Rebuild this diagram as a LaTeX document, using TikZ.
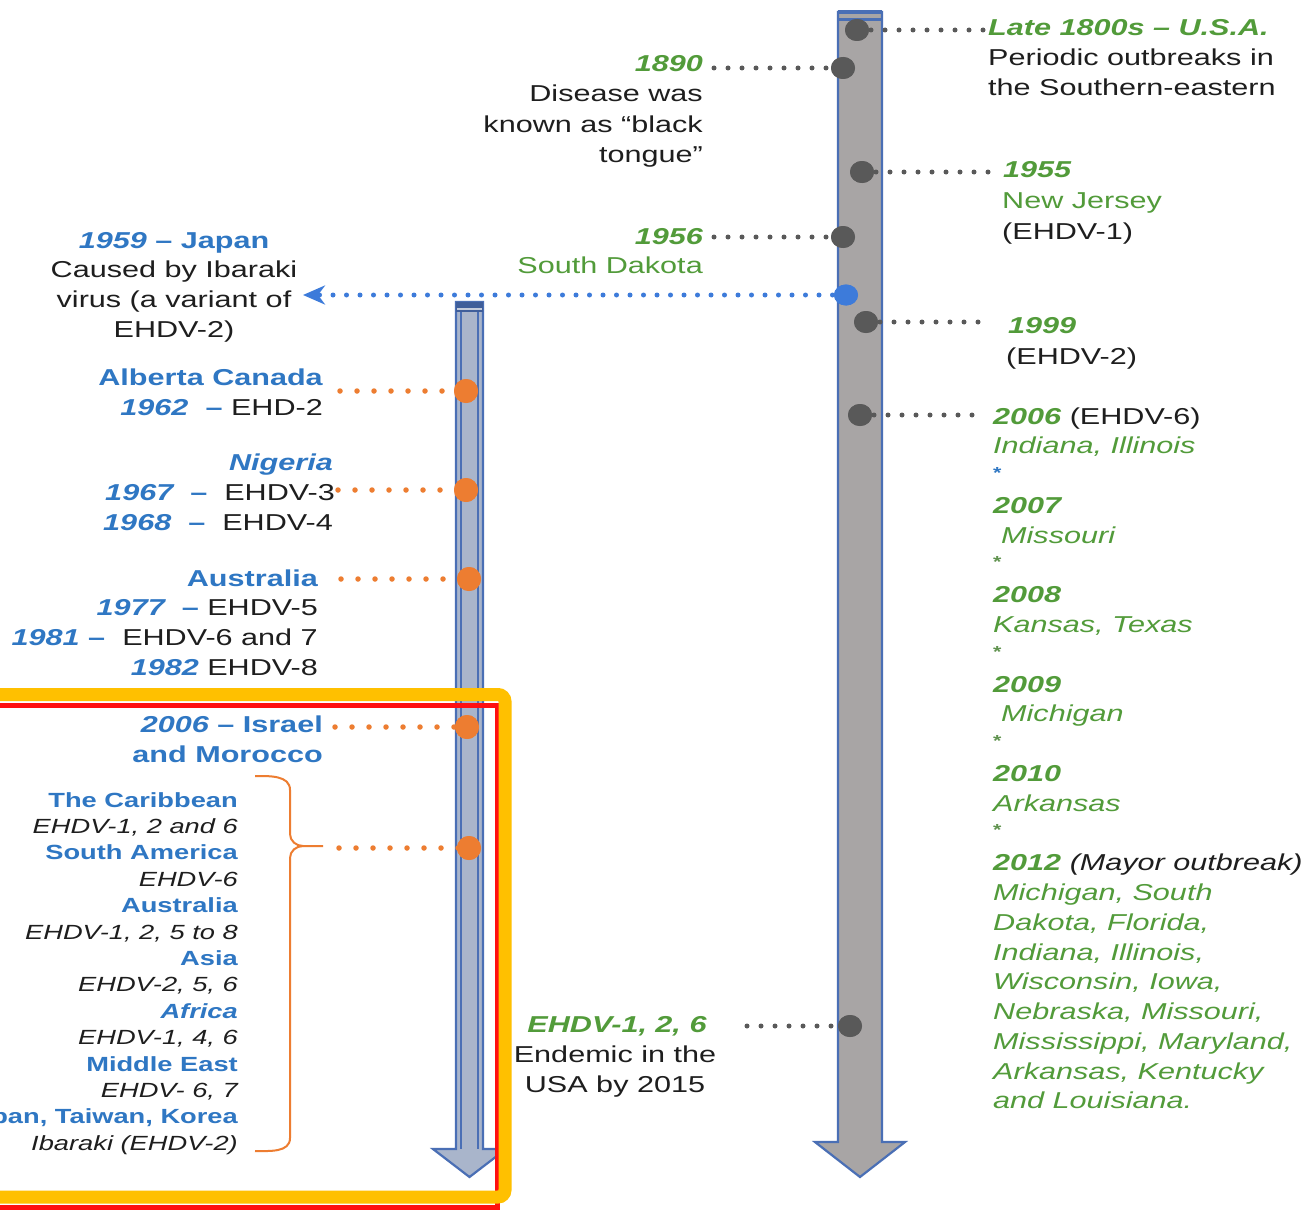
\documentclass[tikz,border=0pt]{standalone}
\usepackage{fontspec}
\setmainfont{Liberation Sans}[FakeStretch=1.33]
\usetikzlibrary{arrows.meta,shapes.geometric}
\definecolor{ink}{HTML}{1E1E1E}
\definecolor{grn}{HTML}{529B3A}
\definecolor{blu}{HTML}{2F77C3}
\definecolor{orng}{HTML}{ED7D31}
\definecolor{dotgray}{HTML}{595959}
\definecolor{shaftgray}{HTML}{A8A5A5}
\definecolor{shaftblue}{HTML}{A9B5CB}
\definecolor{edgeblue}{HTML}{4A6FB5}
\definecolor{bdotc}{HTML}{3D7BDA}
\definecolor{frameyel}{HTML}{FFC000}
\definecolor{framered}{HTML}{FF1010}
\newcommand\GrYr[1]{{\color{grn}\bfseries\itshape #1}}
\newcommand\GrIt[1]{{\color{grn}\itshape #1}}
\newcommand\GrRm[1]{{\color{grn}#1}}
\newcommand\BlB[1]{{\color{blu}\bfseries #1}}
\newcommand\BlBI[1]{{\color{blu}\bfseries\itshape #1}}
\newcommand\Ast[1]{\raisebox{5pt}{\color{#1}\fontsize{16}{16}\selectfont\bfseries *}}
\begin{document}
\begin{tikzpicture}[x=1pt,y=-1pt,
  txt/.style={inner sep=0pt, font=\fontsize{23}{29.8}\selectfont, text=ink},
  lt/.style={txt, anchor=base west},
  rt/.style={txt, anchor=base east},
  ct/.style={txt, anchor=base},
  sm/.style={inner sep=0pt, font=\fontsize{20.5}{26.4}\selectfont, text=ink, anchor=base east},
  gdot/.style={ellipse, fill=dotgray, minimum width=24pt, minimum height=22pt, inner sep=0pt},
  odot/.style={circle, fill=orng, minimum size=24pt, inner sep=0pt},
  bdot/.style={ellipse, fill=bdotc, minimum width=24pt, minimum height=21pt, inner sep=0pt},
  gline/.style={dotgray, line width=5pt, line cap=round, dash pattern=on 0pt off 14pt},
  oline/.style={orng, line width=5.5pt, line cap=round, dash pattern=on 0pt off 17pt},
  bline/.style={bdotc, line width=5pt, line cap=round, dash pattern=on 0pt off 13.5pt},
  edge/.style={edgeblue, line width=2.2pt, line join=miter}
]
\useasboundingbox (0,0) rectangle (1309,1212);
\clip (0,0) rectangle (1309,1212);
\fill[white] (0,0) rectangle (1309,1212);

% ---- right (gray) timeline arrow
\draw[edge, fill=shaftgray] (838,12) -- (882,12) -- (882,1142) -- (905,1142) -- (860,1177)
  -- (815,1142) -- (838,1142) -- cycle;
\draw[edgeblue, line width=4pt] (838,12) -- (882,12);
\draw[edgeblue, line width=3pt] (838,19.5) -- (882,19.5);

% ---- left (blue) timeline arrow
\draw[edge, fill=shaftblue] (456,302) -- (483,302) -- (483,1149) -- (506,1149) -- (469.5,1177)
  -- (433,1149) -- (456,1149) -- cycle;
\draw[edgeblue, line width=1.6pt] (461,308) -- (461,1149);
\draw[edgeblue, line width=1.6pt] (478,308) -- (478,1149);
\fill[edgeblue!85!black] (456,302) rectangle (483,312);
\draw[shaftblue!70!white, line width=1.5pt] (457,309) -- (482,309);

% ---- dots on the gray arrow
\node[gdot] (d1800) at (857,30) {};
\node[gdot] (d1890) at (843,68) {};
\node[gdot] (d1955) at (862,172) {};
\node[gdot] (d1956) at (843,237) {};
\node[bdot] (dblue) at (846,295) {};
\node[gdot] (d1999) at (866,322) {};
\node[gdot] (d2006) at (860,415) {};
\node[gdot] (dend)  at (850,1026) {};

% ---- dots on the blue arrow
\node[odot] (o1962) at (466,391) {};
\node[odot] (o1967) at (466,490) {};
\node[odot] (o1977) at (469,579) {};
\node[odot] (o2006) at (467,727) {};
\node[odot] (oworld) at (469,848) {};

% ---- free ends of connectors
\coordinate (c1800) at (984,30);
\coordinate (c1890) at (714,68);
\coordinate (c1955) at (990,172);
\coordinate (c1956) at (714,237);
\coordinate (c1999) at (992,322);
\coordinate (c2006) at (986,415);
\coordinate (cend)  at (747,1026);
\coordinate (jtip)  at (303,295);
\coordinate (k1962) at (340,391);
\coordinate (k1967) at (338,490);
\coordinate (k1977) at (341,579);
\coordinate (k2006) at (335,727);
\coordinate (kworld) at (339,848);

% ---- connectors
\draw[gline] (d1800.center) -- (c1800);
\draw[gline] (c1890) -- (d1890.center);
\draw[gline] (d1955.center) -- (c1955);
\draw[gline] (c1956) -- (d1956.center);
\draw[gline] (d1999.center) -- (c1999);
\draw[gline] (d2006.center) -- (c2006);
\draw[gline] (cend) -- (dend.center);
\draw[oline] (k1962) -- (o1962.center);
\draw[oline] (k1967) -- (o1967.center);
\draw[oline] (k1977) -- (o1977.center);
\draw[oline] (k2006) -- (o2006.center);
\draw[oline] (kworld) -- (oworld.center);
\draw[bline, -{Stealth[length=22pt, width=19pt, inset=7pt]}] (dblue.center) -- (jtip);

% redraw dots on top of their connectors
\foreach \p in {(857,30),(843,68),(862,172),(843,237),(866,322),(860,415),(850,1026)}
  \fill[dotgray] \p ellipse [x radius=12pt, y radius=11pt];
\fill[bdotc] (846,295) ellipse [x radius=12pt, y radius=10.5pt];
\foreach \p in {(466,391),(466,490),(469,579),(467,727),(469,848)}
  \fill[orng] \p circle [radius=12pt];

% ---- orange brace
\draw[orng, line width=2pt] (255,776) to[out=0,in=90] (290,790) -- (290,834)
   to[out=-90,in=180] (303,846) -- (323,846);
\draw[orng, line width=2pt] (303,846) to[out=180,in=90] (290,858) -- (290,1138)
   to[out=-90,in=0] (255,1151);

% ---- highlight frame
\draw[framered, line width=5pt] (-10,705) rectangle (497,1207);
\draw[frameyel, line width=13pt, rounded corners=7pt] (-20,694.5) rectangle (505,1197);

% ---- texts: upper right / middle
\node[lt] (t1800a) at (988,36) {\GrYr{Late 1800s – U.S.A.}};
\node[lt] (t1800b) at (988,66) {Periodic outbreaks in};
\node[lt] (t1800c) at (988,96) {the Southern-eastern};

\node[rt] (t1890a) at (703,72) {\GrYr{1890}};
\node[rt] (t1890b) at (703,102) {Disease was};
\node[rt] (t1890c) at (703,132) {known as “black};
\node[rt] (t1890d) at (703,162) {tongue”};

\node[lt] (t1955a) at (1003,178) {\GrYr{1955}};
\node[lt] (t1955b) at (1002,208) {\GrRm{New Jersey}};
\node[lt] (t1955c) at (1002,239) {(EHDV-1)};

\node[rt] (t1956a) at (703,244) {\GrYr{1956}};
\node[rt] (t1956b) at (703,273) {\GrRm{South Dakota}};

\node[lt] (t1999a) at (1008,333) {\GrYr{1999}};
\node[lt] (t1999b) at (1006,364) {(EHDV-2)};

% ---- right column, 2006 onwards
\foreach \t [count=\i from 0] in {
  {\GrYr{2006} (EHDV-6)},
  {\GrIt{Indiana, Illinois}},
  {\Ast{blu}},
  {\GrYr{2007}},
  {\hspace{8pt}\GrIt{Missouri}},
  {\Ast{grn!70!gray}},
  {\GrYr{2008}},
  {\GrIt{Kansas, Texas}},
  {\Ast{grn!70!gray}},
  {\GrYr{2009}},
  {\hspace{8pt}\GrIt{Michigan}},
  {\Ast{grn!70!gray}},
  {\GrYr{2010}},
  {\GrIt{Arkansas}},
  {\Ast{grn!70!gray}},
  {\GrYr{2012} {\itshape (Mayor outbreak)}},
  {\GrIt{Michigan, South}},
  {\GrIt{Dakota, Florida,}},
  {\GrIt{Indiana, Illinois,}},
  {\GrIt{Wisconsin, Iowa,}},
  {\GrIt{Nebraska, Missouri,}},
  {\GrIt{Mississippi, Maryland,}},
  {\GrIt{Arkansas, Kentucky}},
  {\GrIt{and Louisiana.}}}
  \node[lt] (r\i) at (993,{424+29.78*\i}) {\t};

% ---- left of the blue arrow
\node[ct] (jap) at (174,248) {\BlBI{1959} \BlB{– Japan}};
\node[ct] (ib1) at (174,277) {Caused by Ibaraki};
\node[ct] (ib2) at (174,307) {virus (a variant of};
\node[ct] (ib3) at (174,337) {EHDV-2)};

\node[rt] (alb) at (323,385) {\BlB{Alberta Canada}};
\node[rt] (y62) at (323,415) {\BlBI{1962}~~\BlB{–} EHD-2};
\node[rt] (nig) at (333,470) {\BlBI{Nigeria}};
\node[rt] (y67) at (335,500) {\BlBI{1967}~~\BlB{–}~~EHDV-3};
\node[rt] (y68) at (333,530) {\BlBI{1968}~~\BlB{–}~~EHDV-4};
\node[rt] (aus) at (318,586) {\BlB{Australia}};
\node[rt] (y77) at (318,615) {\BlBI{1977}~~\BlB{–} EHDV-5};
\node[rt] (y81) at (318,645) {\BlBI{1981} \BlB{–}~~EHDV-6 and 7};
\node[rt] (y82) at (318,675) {\BlBI{1982} EHDV-8};
\node[rt] (isr) at (323,732) {\BlBI{2006} \BlB{– Israel}};
\node[rt] (mor) at (323,762) {\BlB{and Morocco}};

\foreach \t [count=\i from 0] in {
  {\BlB{The Caribbean}},
  {\itshape EHDV-1, 2 and 6},
  {\BlB{South America}},
  {\itshape EHDV-6},
  {\BlB{Australia}},
  {\itshape EHDV-1, 2, 5 to 8},
  {\BlB{Asia}},
  {\itshape EHDV-2, 5, 6},
  {\BlBI{Africa}},
  {\itshape EHDV-1, 4, 6},
  {\BlB{Middle East}},
  {\itshape EHDV- 6, 7},
  {\BlB{Japan, Taiwan, Korea}},
  {\itshape Ibaraki (EHDV-2)}}
  \node[sm] (w\i) at (238,{807+26.4*\i}) {\t};

% ---- endemic note
\node[ct] (en0) at (617,1032) {\GrYr{EHDV-1, 2, 6}};
\node[ct] (en1) at (615,1062) {Endemic in the};
\node[ct] (en2) at (615,1092) {USA by 2015};
\end{tikzpicture}
\end{document}
